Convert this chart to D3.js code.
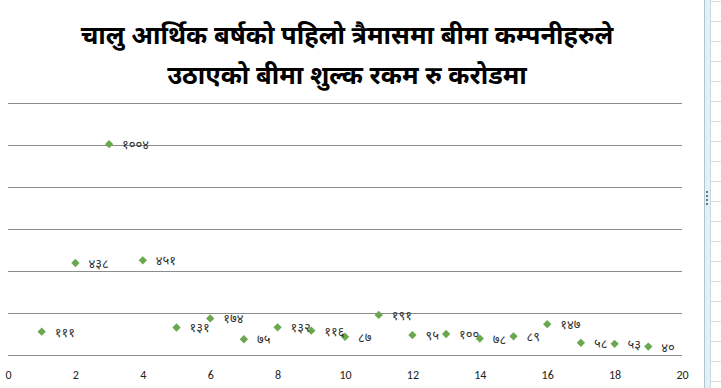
<!DOCTYPE html>
<html>
<head>
<meta charset="utf-8">
<script src="https://cdn.jsdelivr.net/npm/d3@7"></script>
<style>
  body { margin: 0; background: #fff; }
  svg { display: block; }
  .title { font-family: "Noto Sans Devanagari", "Lohit Devanagari", "Noto Sans", sans-serif; font-weight: bold; font-size: 25.5px; fill: #000; }
  .lbl { font-family: "Noto Sans Devanagari", "Lohit Devanagari", "Noto Sans", sans-serif; font-size: 13px; fill: #333; }
  .tick text { font-family: Carlito, Calibri, "Liberation Sans", sans-serif; font-size: 12px; fill: #222; }
</style>
</head>
<body>
<svg id="chart" width="721" height="388"></svg>
<script>
// data
const titleLines = ["चालु आर्थिक बर्षको पहिलो त्रैमासमा बीमा कम्पनीहरुले", "उठाएको बीमा शुल्क रकम रु करोडमा"];
const companies = [1, 2, 3, 4, 5, 6, 7, 8, 9, 10, 11, 12, 13, 14, 15, 16, 17, 18, 19];
const premium = [111, 438, 1004, 451, 131, 174, 75, 132, 116, 87, 191, 95, 100, 78, 89, 147, 58, 53, 40];
const xTicks = [0, 2, 4, 6, 8, 10, 12, 14, 16, 18, 20];
const yTicks = [0, 200, 400, 600, 800, 1000, 1200];

const devDigits = "०१२३४५६७८९";
const toDev = n => String(n).replace(/\d/g, d => devDigits[+d]);

const svg = d3.select("#chart");

// right-hand spreadsheet strip
const strip = svg.append("g");
d3.range(1, 388, 20).forEach(y => {
  strip.append("line").attr("x1", 711).attr("x2", 721).attr("y1", y + 0.5).attr("y2", y + 0.5)
    .attr("stroke", "#d4d9de");
});
strip.append("rect").attr("x", 705).attr("y", 0).attr("width", 6).attr("height", 388).attr("fill", "#e3f1f6");
strip.append("line").attr("x1", 704.5).attr("x2", 704.5).attr("y1", 0).attr("y2", 388).attr("stroke", "#aec6cf");
strip.append("line").attr("x1", 710.5).attr("x2", 710.5).attr("y1", 0).attr("y2", 388).attr("stroke", "#c5dbe2");
[191, 195, 199, 203].forEach(y => {
  strip.append("rect").attr("x", 706).attr("y", y).attr("width", 2).attr("height", 2).attr("fill", "#6b7780");
});

// title
svg.append("text").attr("class", "title").attr("text-anchor", "middle")
  .selectAll("tspan").data(titleLines).join("tspan")
  .attr("x", 347).attr("y", (d, i) => 44 + i * 40).text(d => d);

const x = d3.scaleLinear().domain([0, 20]).range([8, 682]);
const y = d3.scaleLinear().domain([0, 1200]).range([355, 103]);

// gridlines
svg.append("g").selectAll("line").data(yTicks).join("line")
  .attr("x1", x(0)).attr("x2", x(20))
  .attr("y1", d => Math.round(y(d)) + 0.5).attr("y2", d => Math.round(y(d)) + 0.5)
  .attr("stroke", "#8c8c8c").attr("stroke-width", 1);

// x axis labels
const xAxis = svg.append("g").attr("transform", "translate(0,355)")
  .call(d3.axisBottom(x).tickValues(xTicks).tickSize(0).tickPadding(15));
xAxis.select(".domain").remove();

// markers
const pts = companies.map((c, i) => ({ c, v: premium[i] }));
svg.append("g").selectAll("path").data(pts).join("path")
  .attr("d", d3.symbol(d3.symbolDiamond2, 44))
  .attr("transform", d => `translate(${x(d.c)},${y(d.v)})`)
  .attr("fill", "#6aa84f");

// data labels
svg.append("g").selectAll("text").data(pts).join("text")
  .attr("class", "lbl")
  .attr("x", d => x(d.c) + 13).attr("y", d => y(d.v) + 5)
  .text(d => toDev(d.v));
</script>
</body>
</html>
